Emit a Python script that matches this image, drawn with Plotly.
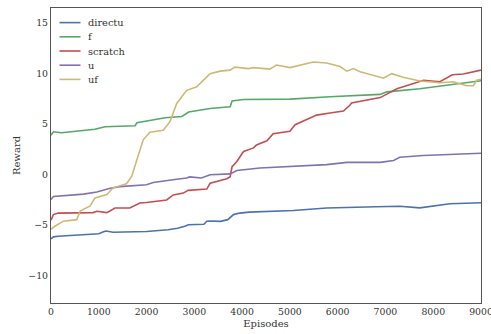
import plotly.graph_objects as go

directu_x = [0, 50, 150, 500, 1000, 1100, 1150, 1300, 2000, 2450, 2650, 2800, 2880, 3200, 3260, 3330, 3550, 3700, 3750, 3820, 3950, 4150, 5070, 5770, 6800, 7300, 7720, 8350, 9000]
directu_y = [-6.35, -6.15, -6.1, -6.0, -5.85, -5.65, -5.58, -5.7, -5.62, -5.45, -5.3, -5.1, -4.95, -4.9, -4.6, -4.58, -4.62, -4.45, -4.2, -3.95, -3.8, -3.7, -3.55, -3.3, -3.18, -3.12, -3.28, -2.88, -2.78]

f_x = [0, 50, 220, 570, 920, 1130, 1760, 1800, 2100, 2390, 2740, 2880, 3010, 3330, 3750, 3790, 4030, 5000, 5840, 6260, 6890, 7030, 7720, 9000]
f_y = [3.9, 4.25, 4.15, 4.35, 4.5, 4.75, 4.85, 5.15, 5.43, 5.64, 5.76, 6.2, 6.3, 6.55, 6.72, 7.3, 7.45, 7.48, 7.72, 7.82, 7.95, 8.2, 8.5, 9.3]

scratch_x = [0, 50, 150, 880, 960, 1170, 1340, 1650, 1860, 2000, 2420, 2560, 2770, 2870, 3260, 3330, 3680, 3750, 3790, 3890, 4030, 4240, 4300, 4520, 4650, 5000, 5110, 5350, 5560, 5840, 6120, 6260, 6290, 6890, 7240, 7800, 8140, 8400, 8630, 9000]
scratch_y = [-4.5, -3.95, -3.8, -3.75, -3.62, -3.75, -3.3, -3.3, -2.8, -2.75, -2.5, -2.0, -1.82, -1.55, -1.42, -0.85, -0.4, -0.2, 0.8, 1.3, 2.3, 2.65, 2.95, 3.35, 4.05, 4.3, 4.95, 5.45, 5.9, 6.1, 6.3, 6.9, 7.1, 7.63, 8.5, 9.35, 9.2, 9.9, 9.97, 10.35]

u_x = [0, 50, 680, 960, 1240, 1440, 2000, 2140, 2630, 2840, 2900, 3150, 3330, 3750, 3890, 4170, 4370, 5770, 6190, 6890, 7170, 7300, 7790, 9000]
u_y = [-2.45, -2.15, -1.92, -1.72, -1.35, -1.18, -1.0, -0.78, -0.45, -0.33, -0.22, -0.33, 0.0, 0.08, 0.42, 0.58, 0.66, 1.0, 1.22, 1.22, 1.4, 1.72, 1.9, 2.12]

uf_x = [0, 80, 260, 540, 610, 820, 920, 1170, 1300, 1580, 1690, 1790, 1930, 2070, 2350, 2490, 2630, 2840, 3050, 3330, 3540, 3750, 3850, 4130, 4240, 4580, 4720, 5000, 5490, 5770, 6050, 6190, 6330, 6470, 6960, 7130, 7370, 7720, 8140, 8420, 8700, 8840, 8910, 9000]
uf_y = [-5.4, -5.1, -4.6, -4.45, -3.6, -3.1, -2.3, -1.97, -1.3, -0.9, -0.15, 1.45, 3.45, 4.2, 4.4, 5.25, 7.05, 8.35, 8.7, 10.0, 10.25, 10.35, 10.65, 10.5, 10.6, 10.45, 10.85, 10.6, 11.15, 11.05, 10.7, 10.25, 10.5, 10.2, 9.55, 10.0, 9.65, 9.28, 9.1, 9.2, 8.8, 8.8, 9.35, 9.45]

x_ticks = [0, 1000, 2000, 3000, 4000, 5000, 6000, 7000, 8000, 9000]
y_ticks = [-10, -5, 0, 5, 10, 15]

series = [
    ("directu", directu_x, directu_y, "#4C72B0"),
    ("f", f_x, f_y, "#55A868"),
    ("scratch", scratch_x, scratch_y, "#C44E52"),
    ("u", u_x, u_y, "#8172B2"),
    ("uf", uf_x, uf_y, "#CCB974"),
]

W, H = 491, 334
ML, MR, MT, MB = 51, 10, 8, 31
plot_w = W - ML - MR
plot_h = H - MT - MB

font = "DejaVu Serif"
fig = go.Figure()
for i, (name, xs, ys, col) in enumerate(series):
    fig.add_trace(go.Scatter(x=xs, y=ys, mode="lines", name=name, showlegend=False,
                             line=dict(color=col, width=1.6)))
    # compact legend entry (matplotlib-style spacing)
    yc = 1 - (14.6 + 14.2 * i) / plot_h
    fig.add_shape(type="line", xref="paper", yref="paper",
                  x0=8.5 / plot_w, x1=29.5 / plot_w, y0=yc, y1=yc,
                  line=dict(color=col, width=1.6))
    fig.add_annotation(xref="paper", yref="paper", x=35 / plot_w, y=yc,
                       xanchor="left", yanchor="middle", showarrow=False,
                       text=name, font=dict(family=font, size=9.8, color="#333333"))

fig.update_layout(
    width=W, height=H,
    margin=dict(l=ML, r=MR, t=MT, b=MB),
    paper_bgcolor="white", plot_bgcolor="white",
    font=dict(family=font, size=9.3, color="#333333"),
    showlegend=False,
    xaxis=dict(range=[0, 9000], tickvals=x_ticks, showgrid=False, zeroline=False,
               showline=True, linecolor="#555555", linewidth=1.3, mirror=True,
               automargin=False, ticks="", ticklabeloverflow="allow",
               title=dict(text="Episodes", standoff=3, font=dict(size=10))),
    yaxis=dict(range=[-12.7, 16.5], tickvals=y_ticks, showgrid=False, zeroline=False,
               showline=True, linecolor="#555555", linewidth=1.3, mirror=True,
               automargin=False, ticks="",
               title=dict(text="Reward", standoff=5, font=dict(size=10))),
)

fig.write_html("out.html", config={"displayModeBar": False},
               post_script="document.body.style.margin='0';document.body.style.overflow='hidden';")
